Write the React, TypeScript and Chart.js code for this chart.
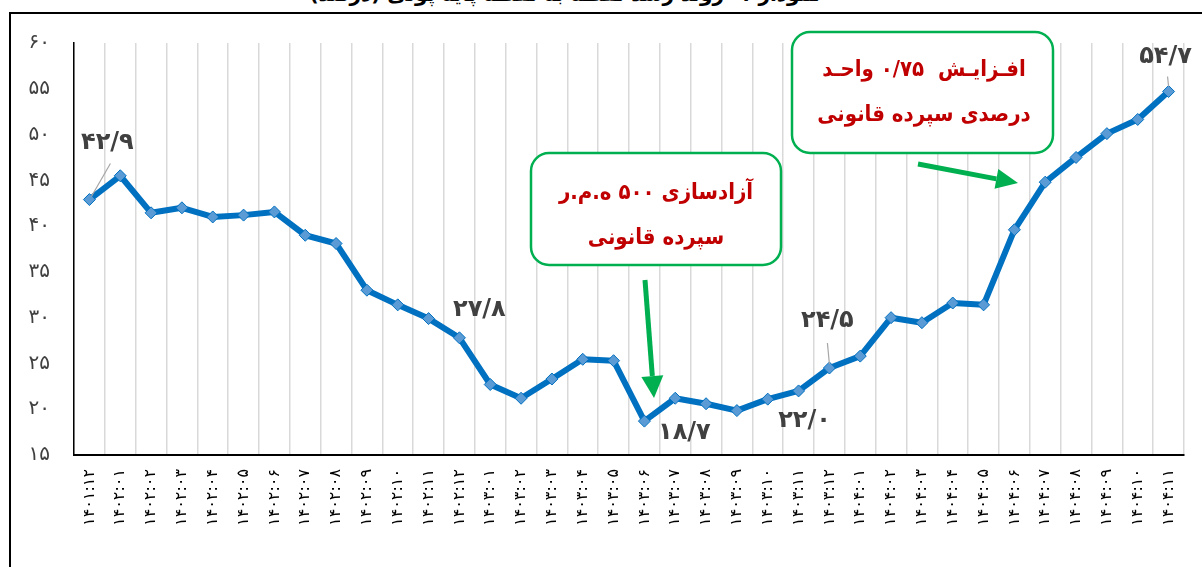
import React, { useEffect, useRef } from "react";
import { Chart, registerables } from "chart.js";
Chart.register(...registerables);

// Month labels (Persian calendar, year:month)
const months = [
  "۱۴۰۱:۱۲",
  "۱۴۰۲:۰۱", "۱۴۰۲:۰۲", "۱۴۰۲:۰۳", "۱۴۰۲:۰۴", "۱۴۰۲:۰۵", "۱۴۰۲:۰۶",
  "۱۴۰۲:۰۷", "۱۴۰۲:۰۸", "۱۴۰۲:۰۹", "۱۴۰۲:۱۰", "۱۴۰۲:۱۱", "۱۴۰۲:۱۲",
  "۱۴۰۳:۰۱", "۱۴۰۳:۰۲", "۱۴۰۳:۰۳", "۱۴۰۳:۰۴", "۱۴۰۳:۰۵", "۱۴۰۳:۰۶",
  "۱۴۰۳:۰۷", "۱۴۰۳:۰۸", "۱۴۰۳:۰۹", "۱۴۰۳:۱۰", "۱۴۰۳:۱۱", "۱۴۰۳:۱۲",
  "۱۴۰۴:۰۱", "۱۴۰۴:۰۲", "۱۴۰۴:۰۳", "۱۴۰۴:۰۴", "۱۴۰۴:۰۵", "۱۴۰۴:۰۶",
  "۱۴۰۴:۰۷", "۱۴۰۴:۰۸", "۱۴۰۴:۰۹", "۱۴۰۴:۱۰", "۱۴۰۴:۱۱",
];

const values = [
  42.9, 45.5, 41.45, 42.0, 41.0, 41.2, 41.55, 39.0, 38.1, 33.0, 31.4, 29.9,
  27.8, 22.7, 21.2, 23.3, 25.45, 25.3, 18.7, 21.2, 20.6, 19.85, 21.1, 22.0,
  24.5, 25.8, 30.0, 29.45, 31.6, 31.4, 39.6, 44.8, 47.5, 50.1, 51.65, 54.7,
];

const yMin = 15;
const yMax = 60;
const yStep = 5;

// Indices of points carrying a value label
const labeledIdx = [0, 12, 18, 23, 24, 35];

const titleText = "نمودار ۱- روند رشد نقطه به نقطه پایه پولی (درصد)";
const note1Lines = ["آزادسازی ۵۰۰ ه.م.ر", "سپرده قانونی"];
const note2Lines = ["افـزایـش  ۰/۷۵ واحـد", "درصدی سپرده قانونی"];

const faDigits = "۰۱۲۳۴۵۶۷۸۹";
const toFa = (s: string) => s.replace(/[0-9]/g, (d) => faDigits[Number(d)]);

const FONT = "'DejaVu Sans Condensed', 'DejaVu Sans'";

// label offsets relative to point (dx, dy) and leader lines
const labelStyle: Record<number, { dx: number; dy: number; leader?: [number, number, number, number] }> = {
  0: { dx: 18, dy: -57, leader: [21, -36, 2, -3] },
  12: { dx: 20, dy: -28 },
  18: { dx: 40, dy: 12 },
  23: { dx: 6, dy: 30 },
  24: { dx: -2, dy: -47, leader: [-2, -25, 0, -4] },
  35: { dx: -3, dy: -35, leader: [-1, -15, 0, -5] },
};

const annotPlugin = {
  id: "annot",
  afterDatasetsDraw(chart: any) {
    const ctx: CanvasRenderingContext2D = chart.ctx;
    const meta = chart.getDatasetMeta(0);
    ctx.save();
    // value labels
    labeledIdx.forEach((i) => {
      const p = meta.data[i];
      const st = labelStyle[i];
      if (st.leader) {
        ctx.strokeStyle = "#a6a6a6";
        ctx.lineWidth = 1.2;
        ctx.beginPath();
        ctx.moveTo(p.x + st.leader[0], p.y + st.leader[1]);
        ctx.lineTo(p.x + st.leader[2], p.y + st.leader[3]);
        ctx.stroke();
      }
      ctx.fillStyle = "#404040";
      ctx.font = "bold 24px 'DejaVu Sans'";
      ctx.textAlign = "center";
      ctx.textBaseline = "middle";
      ctx.direction = "ltr";
      ctx.fillText(toFa(values[i].toFixed(1).replace(".", "/")), p.x + st.dx, p.y + st.dy);
    });

    const drawBox = (x: number, y: number, w: number, h: number, lines: string[], ys: number[], cx: number) => {
      ctx.beginPath();
      (ctx as any).roundRect(x, y, w, h, 18);
      ctx.fillStyle = "#ffffff";
      ctx.fill();
      ctx.strokeStyle = "#00b050";
      ctx.lineWidth = 2.5;
      ctx.stroke();
      ctx.fillStyle = "#c00000";
      ctx.font = "bold 22px " + FONT;
      ctx.textAlign = "center";
      ctx.textBaseline = "middle";
      ctx.direction = "rtl";
      lines.forEach((l, k) => ctx.fillText(l, cx, ys[k]));
    };
    drawBox(531, 153, 250, 112, note1Lines, [193, 238], 656);
    drawBox(792, 32, 261, 121, note2Lines, [70, 115], 924);

    const arrow = (x1: number, y1: number, x2: number, y2: number, hl: number, hw: number) => {
      const a = Math.atan2(y2 - y1, x2 - x1);
      const bx = x2 - hl * Math.cos(a);
      const by = y2 - hl * Math.sin(a);
      ctx.strokeStyle = "#00b050";
      ctx.fillStyle = "#00b050";
      ctx.lineWidth = 5;
      ctx.beginPath();
      ctx.moveTo(x1, y1);
      ctx.lineTo(bx, by);
      ctx.stroke();
      ctx.beginPath();
      ctx.moveTo(x2, y2);
      ctx.lineTo(bx + hw * Math.sin(a), by - hw * Math.cos(a));
      ctx.lineTo(bx - hw * Math.sin(a), by + hw * Math.cos(a));
      ctx.closePath();
      ctx.fill();
    };
    arrow(645, 280, 654, 398, 22, 11);
    arrow(918, 164, 1018, 183, 22, 10);
    ctx.restore();
  },
};

export default function App() {
  const ref = useRef<HTMLCanvasElement>(null);
  useEffect(() => {
    if (!ref.current) return;
    const chart = new Chart(ref.current, {
      type: "line",
      data: {
        labels: months,
        datasets: [
          {
            data: values,
            borderColor: "#0070c0",
            borderWidth: 6,
            borderJoinStyle: "round",
            pointStyle: "rectRot",
            pointRadius: 6,
            pointBackgroundColor: "#5b9bd5",
            pointBorderColor: "#0070c0",
            pointBorderWidth: 1,
            tension: 0,
          },
        ],
      },
      options: {
        animation: false,
        responsive: false,
        events: [],
        layout: { padding: { left: 0, top: 43, right: 17, bottom: 0 } },
        plugins: { legend: { display: false }, title: { display: false }, tooltip: { enabled: false } },
        scales: {
          x: {
            offset: true,
            grid: { display: true, color: "#d9d9d9", lineWidth: 1.5, offset: true, drawTicks: false },
            border: { display: true, color: "#000000", width: 2 },
            ticks: {
              autoSkip: false,
              minRotation: 90,
              maxRotation: 90,
              padding: 14,
              color: "#000000",
              font: { family: "'DejaVu Sans'", size: 16 },
            },
            afterFit: (s: any) => {
              s.height = 112;
            },
          },
          y: {
            min: yMin,
            max: yMax,
            grid: { display: false, drawTicks: false },
            border: { display: true, color: "#000000", width: 1.5 },
            ticks: {
              stepSize: yStep,
              padding: 24,
              color: "#404040",
              font: { family: "'DejaVu Sans'", size: 20 },
              callback: (v: any) => toFa(String(v)),
            },
            afterFit: (s: any) => {
              s.width = 74;
            },
          },
        },
      },
      plugins: [annotPlugin],
    });
    return () => chart.destroy();
  }, []);

  return (
    <div style={{ position: "fixed", left: 0, top: 0, width: 1202, height: 567, overflow: "hidden", background: "#fff" }}>
      <div
        style={{
          position: "absolute",
          left: 0,
          width: 1130,
          top: -18,
          lineHeight: "24px",
          fontSize: 20,
          fontWeight: "bold",
          fontFamily: "'DejaVu Sans'",
          textAlign: "center",
          direction: "rtl",
          color: "#000",
        }}
      >
        {titleText}
      </div>
      <div
        style={{
          position: "absolute",
          left: 9,
          top: 12,
          width: 1400,
          height: 800,
          border: "2px solid #000",
          boxSizing: "border-box",
        }}
      />
      <canvas
        ref={ref}
        width={1202}
        height={567}
        style={{ position: "absolute", left: 0, top: 0, width: 1202, height: 567 }}
      />
    </div>
  );
}
